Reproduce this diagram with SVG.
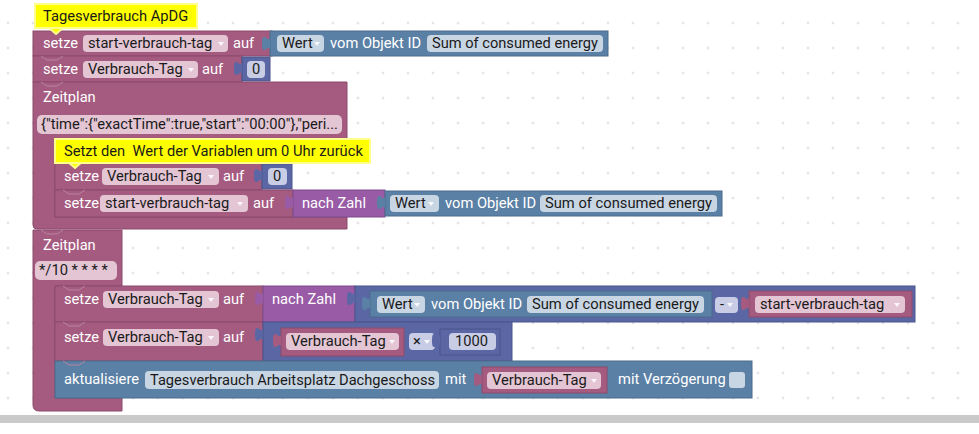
<svg xmlns="http://www.w3.org/2000/svg" width="979" height="434" viewBox="0 0 979 434">
<defs>
<pattern id="grid" width="25" height="25" patternUnits="userSpaceOnUse" x="-4.5" y="10.5">
<circle cx="12.5" cy="12.5" r="1" fill="#c8c8c8"/>
</pattern>
</defs>
<style>
.v{fill:#A55B80;stroke:#8c4a6c;stroke-width:1}
.o{fill:#5B80A5;stroke:#4a6b8c;stroke-width:1}
.n{fill:#5B67A5;stroke:#4a558c;stroke-width:1}
.c{fill:#995BA5;stroke:#7f4a8c;stroke-width:1}
.vt{fill:#A55B80}
.ot{fill:#5B80A5}
.nt{fill:#5B67A5}
.ct{fill:#995BA5}
.pp{fill:#e3c5d4}
.pb{fill:#c8d5e3}
.pn{fill:#c8cde5}
.cm{fill:#ffff00;stroke:#ffff8c;stroke-width:2}
text{font-family:Roboto,"Liberation Sans",sans-serif;font-size:14.7px}
.l{fill:#fff}
.t{fill:#1a1a1a}
.a{fill:#fff;opacity:.85}
.notch{fill:none;stroke:#b9849f;stroke-width:1}
</style>
<rect width="979" height="434" fill="#fff"/>
<rect width="979" height="414" fill="url(#grid)"/>
<rect x="0" y="415" width="979" height="8" fill="#cacaca"/>

<g id="connectors"></g>

<g id="setze-start">
<rect x="33" y="31" width="239" height="25" class="v"/>
<text x="43" y="48" class="l">setze</text>
<rect x="83" y="35" width="145" height="17" rx="4" class="pp"/>
<text x="88" y="48" class="t">start-verbrauch-tag</text>
<polygon points="218,42 224,42 221,46" class="a"/>
<text x="233" y="48" class="l">auf</text>
<g id="wert1">
<rect x="270" y="31" width="338" height="25" class="o"/>
<path d="M270,36 c0,10 -8,-8 -8,7.5 s8,-2.5 8,7.5z" class="ot"/>
<rect x="277" y="35" width="47" height="17" rx="4" class="pb"/>
<text x="282" y="48" class="t">Wert</text>
<polygon points="314,42 320,42 317,46" class="a"/>
<text x="330" y="48" class="l">vom Objekt ID</text>
<rect x="427" y="35" width="176" height="17" rx="4" class="pb"/>
<text x="432" y="48" class="t" textLength="166" lengthAdjust="spacingAndGlyphs">Sum of consumed energy</text>
</g>
</g>

<g id="comment1">
<polygon points="48,27 64,27 56,34" class="cm"/>
<rect x="35" y="4" width="162" height="24" class="cm"/>
<text x="43" y="21" class="t">Tagesverbrauch ApDG</text>
</g>

<g id="setze-tag0">
<rect x="33" y="56" width="209" height="26" class="v"/>
<path d="M41,56 l6,4 h10 l6,-4" class="notch"/>
<text x="43" y="74" class="l">setze</text>
<rect x="83" y="61" width="115" height="17" rx="4" class="pp"/>
<text x="88" y="74" class="t">Verbrauch-Tag</text>
<polygon points="188,68 194,68 191,72" class="a"/>
<text x="202" y="74" class="l">auf</text>
<g id="num0a">
<rect x="242" y="57" width="28" height="24" class="n"/>
<path d="M242,61 c0,10 -8,-8 -8,7.5 s8,-2.5 8,7.5z" class="nt"/>
<rect x="247" y="61" width="18" height="17" rx="4" class="pn"/>
<text x="252" y="74" class="t">0</text>
</g>
</g>

<g id="zeitplan1">
<path d="M33,82 H347 V163 H55 V217 H347 V229 H37 Q33,229 33,225 Z" class="v"/>
<path d="M41,82 l6,4 h10 l6,-4" class="notch"/>
<text x="43" y="102" class="l">Zeitplan</text>
<rect x="37" y="115" width="305" height="19" rx="5" class="pp"/>
<text x="41" y="129" class="t" textLength="297" lengthAdjust="spacingAndGlyphs">{"time":{"exactTime":true,"start":"00:00"},"peri...</text>
</g>

<g id="setze-tag0b">
<rect x="55" y="163" width="207" height="27" class="v"/>
<text x="64" y="181" class="l">setze</text>
<rect x="102" y="168" width="117" height="17" rx="4" class="pp"/>
<text x="107" y="181" class="t">Verbrauch-Tag</text>
<polygon points="208,175 214,175 211,179" class="a"/>
<text x="223" y="181" class="l">auf</text>
<g id="num0b">
<rect x="262" y="164" width="30" height="25" class="n"/>
<path d="M262,168 c0,10 -8,-8 -8,7.5 s8,-2.5 8,7.5z" class="nt"/>
<rect x="268" y="168" width="19" height="17" rx="4" class="pn"/>
<text x="273" y="181" class="t">0</text>
</g>
</g>

<g id="comment2">
<polygon points="68,162 82,162 75,168" class="cm"/>
<rect x="55" y="139" width="315" height="24" class="cm"/>
<text x="64" y="156" class="t" xml:space="preserve">Setzt den  Wert der Variablen um 0 Uhr zurück</text>
</g>

<g id="setze-start2">
<rect x="55" y="190" width="238" height="27" class="v"/>
<path d="M63,190 l6,4 h10 l6,-4" class="notch"/>
<text x="64" y="208" class="l">setze</text>
<rect x="100" y="195" width="148" height="17" rx="4" class="pp"/>
<text x="105" y="208" class="t">start-verbrauch-tag</text>
<polygon points="237,202 243,202 240,206" class="a"/>
<text x="253" y="208" class="l">auf</text>
<g id="nachzahl1">
<rect x="293" y="190" width="92" height="27" class="c"/>
<path d="M293,195 c0,10 -8,-8 -8,7.5 s8,-2.5 8,7.5z" class="ct"/>
<text x="302" y="208" class="l">nach Zahl</text>
</g>
<g id="wert2">
<rect x="385" y="191" width="337" height="25" class="o"/>
<path d="M385,195 c0,10 -8,-8 -8,7.5 s8,-2.5 8,7.5z" class="ot"/>
<rect x="390" y="195" width="49" height="17" rx="4" class="pb"/>
<text x="395" y="208" class="t">Wert</text>
<polygon points="428,202 434,202 431,206" class="a"/>
<text x="445" y="208" class="l">vom Objekt ID</text>
<rect x="540" y="195" width="177" height="17" rx="4" class="pb"/>
<text x="545" y="208" class="t" textLength="167" lengthAdjust="spacingAndGlyphs">Sum of consumed energy</text>
</g>
</g>

<g id="zeitplan2">
<path d="M33,230 H122 V286 H55 V398 H122 V411 H39 Q33,411 33,405 Z" class="v"/>
<path d="M41,230 l6,4 h10 l6,-4" class="notch"/>
<text x="43" y="250" class="l">Zeitplan</text>
<rect x="35" y="261" width="82" height="19" rx="5" class="pp"/>
<text x="39" y="275" class="t">*/10 * * * *</text>
</g>

<g id="setze-tag-calc">
<rect x="55" y="286" width="208" height="36" class="v"/>
<path d="M63,286 l6,4 h10 l6,-4" class="notch"/>
<text x="64" y="304" class="l">setze</text>
<rect x="103" y="291" width="116" height="17" rx="4" class="pp"/>
<text x="108" y="304" class="t">Verbrauch-Tag</text>
<polygon points="208,298 214,298 211,302" class="a"/>
<text x="223" y="304" class="l">auf</text>
<g id="nachzahl2">
<rect x="263" y="286" width="92" height="36" class="c"/>
<path d="M263,291 c0,10 -8,-8 -8,7.5 s8,-2.5 8,7.5z" class="ct"/>
<text x="272" y="304" class="l">nach Zahl</text>
</g>
<g id="minus">
<rect x="355" y="286" width="560" height="36" class="n"/>
<path d="M355,291 c0,10 -8,-8 -8,7.5 s8,-2.5 8,7.5z" class="nt"/>
<g id="wert3">
<rect x="370" y="291" width="342" height="26" class="o"/>
<path d="M370,296 c0,10 -8,-8 -8,7.5 s8,-2.5 8,7.5z" class="ot"/>
<rect x="377" y="296" width="48" height="17" rx="4" class="pb"/>
<text x="382" y="309" class="t">Wert</text>
<polygon points="414,303 420,303 417,307" class="a"/>
<text x="431" y="309" class="l">vom Objekt ID</text>
<rect x="527" y="296" width="177" height="17" rx="4" class="pb"/>
<text x="532" y="309" class="t" textLength="167" lengthAdjust="spacingAndGlyphs">Sum of consumed energy</text>
</g>
<rect x="715" y="297" width="23" height="16" rx="4" class="pn"/>
<text x="720" y="309" class="t">-</text>
<polygon points="727,303 733,303 730,307" class="a"/>
<g id="var-start">
<rect x="749" y="291" width="163" height="26" class="v"/>
<path d="M749,296 c0,10 -8,-8 -8,7.5 s8,-2.5 8,7.5z" class="vt"/>
<rect x="755" y="296" width="150" height="17" rx="4" class="pp"/>
<text x="760" y="309" class="t">start-verbrauch-tag</text>
<polygon points="894,303 900,303 897,307" class="a"/>
</g>
</g>
</g>

<g id="setze-tag-mult">
<rect x="55" y="322" width="208" height="39" class="v"/>
<path d="M63,322 l6,4 h10 l6,-4" class="notch"/>
<text x="64" y="342" class="l">setze</text>
<rect x="103" y="329" width="116" height="17" rx="4" class="pp"/>
<text x="108" y="342" class="t">Verbrauch-Tag</text>
<polygon points="208,336 214,336 211,340" class="a"/>
<text x="223" y="342" class="l">auf</text>
<g id="mult">
<rect x="263" y="322" width="249" height="39" class="n"/>
<path d="M263,327 c0,10 -8,-8 -8,7.5 s8,-2.5 8,7.5z" class="nt"/>
<g id="var-tag1">
<rect x="281" y="328" width="123" height="28" class="v"/>
<path d="M281,333 c0,10 -8,-8 -8,7.5 s8,-2.5 8,7.5z" class="vt"/>
<rect x="286" y="333" width="113" height="17" rx="4" class="pp"/>
<text x="291" y="346" class="t">Verbrauch-Tag</text>
<polygon points="389,340 395,340 392,344" class="a"/>
</g>
<rect x="409" y="333" width="26" height="17" rx="4" class="pn"/>
<text x="413" y="346" class="t">×</text>
<polygon points="424,340 430,340 427,344" class="a"/>
<g id="num1000">
<rect x="440" y="329" width="60" height="26" class="n"/>
<path d="M440,333 c0,10 -8,-8 -8,7.5 s8,-2.5 8,7.5z" class="nt"/>
<rect x="449" y="333" width="47" height="17" rx="4" class="pn"/>
<text x="455" y="346" class="t">1000</text>
</g>
</g>
</g>

<g id="aktualisiere">
<rect x="55" y="361" width="697" height="37" class="o"/>
<path d="M63,361 l6,4 h10 l6,-4" class="notch"/>
<text x="64" y="384" class="l">aktualisiere</text>
<rect x="145" y="371" width="294" height="18" rx="4" class="pb"/>
<text x="150" y="385" class="t" textLength="285" lengthAdjust="spacingAndGlyphs">Tagesverbrauch Arbeitsplatz Dachgeschoss</text>
<text x="445" y="384" class="l">mit</text>
<g id="var-tag2">
<rect x="482" y="367" width="125" height="26" class="v"/>
<path d="M482,372 c0,10 -8,-8 -8,7.5 s8,-2.5 8,7.5z" class="vt"/>
<rect x="487" y="372" width="114" height="17" rx="4" class="pp"/>
<text x="492" y="385" class="t">Verbrauch-Tag</text>
<polygon points="591,379 597,379 594,383" class="a"/>
</g>
<text x="618" y="384" class="l">mit Verzögerung</text>
<rect x="729" y="372" width="16" height="16" rx="3" class="pb"/>
</g>
</svg>
